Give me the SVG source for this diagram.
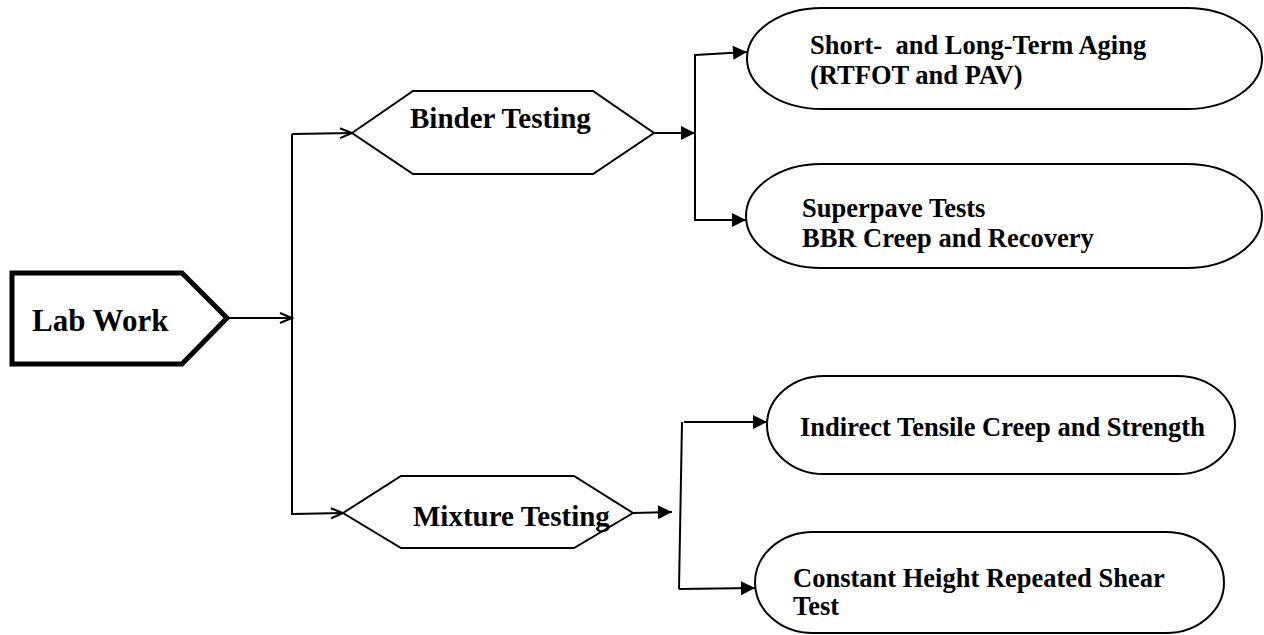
<svg xmlns="http://www.w3.org/2000/svg" width="1264" height="635" viewBox="0 0 1264 635">
  <style>
    .bg { fill: #ffffff; }
    .shape { fill: #ffffff; stroke: #000000; stroke-width: 2; }
    .start { fill: #ffffff; stroke: #000000; stroke-width: 5; stroke-linejoin: miter; }
    .wire { fill: none; stroke: #000000; stroke-width: 2; }
    .lbl { font-family: "Liberation Serif", "Times New Roman", serif; font-weight: bold; fill: #000000; }
    .big { font-size: 31px; }
    .mid { font-size: 29px; }
    .small { font-size: 26.5px; }
  </style>
  <defs>
    <marker id="open" markerUnits="userSpaceOnUse" markerWidth="14" markerHeight="12" refX="12" refY="5" orient="auto" overflow="visible">
      <path d="M0,0 L12,5 L0,10" fill="none" stroke="#000000" stroke-width="2"/>
    </marker>
    <marker id="solid" markerUnits="userSpaceOnUse" markerWidth="15" markerHeight="14" refX="14" refY="7" orient="auto" overflow="visible">
      <path d="M0,0 L14,7 L0,14 Z" fill="#000000"/>
    </marker>
  </defs>

  <rect class="bg" x="0" y="0" width="1264" height="635"/>

  <!-- connectors -->
  <g id="connectors">
    <line class="wire" x1="227" y1="318" x2="292" y2="318" marker-end="url(#open)"/>
    <line class="wire" x1="292" y1="134" x2="292" y2="515"/>
    <line class="wire" x1="292" y1="134" x2="352" y2="133" marker-end="url(#open)"/>
    <line class="wire" x1="292" y1="514" x2="343" y2="513" marker-end="url(#open)"/>

    <line class="wire" x1="654" y1="133" x2="695" y2="133" marker-end="url(#solid)"/>
    <line class="wire" x1="695" y1="54" x2="695" y2="221"/>
    <line class="wire" x1="695" y1="55" x2="747" y2="52" marker-end="url(#solid)"/>
    <line class="wire" x1="695" y1="220" x2="746" y2="220" marker-end="url(#solid)"/>

    <line class="wire" x1="633" y1="513" x2="672" y2="512" marker-end="url(#solid)"/>
    <line class="wire" x1="682" y1="422" x2="679" y2="589"/>
    <line class="wire" x1="684" y1="422" x2="767" y2="422" marker-end="url(#solid)"/>
    <line class="wire" x1="679" y1="589" x2="755" y2="588" marker-end="url(#solid)"/>
  </g>

  <!-- start node -->
  <g id="lab-work">
    <path class="start" d="M12,273 L182,273 L227,318 L182,364 L12,364 Z"/>
    <text class="lbl big" x="32" y="331">Lab Work</text>
  </g>

  <!-- category nodes -->
  <g id="binder-testing">
    <path class="shape" d="M352,133 L413,91 L593,91 L654,133 L593,174 L413,174 Z"/>
    <text class="lbl mid" x="410" y="128">Binder Testing</text>
  </g>

  <g id="mixture-testing">
    <path class="shape" d="M343,513 L401,476 L574,476 L633,513 L574,548 L401,548 Z"/>
    <text class="lbl mid" x="413" y="526">Mixture Testing</text>
  </g>

  <!-- test nodes -->
  <g id="aging">
    <rect class="shape" x="747" y="8" width="515" height="101" rx="75" ry="50.5"/>
    <text class="lbl small" x="810" y="54" xml:space="preserve">Short-  and Long-Term Aging</text>
    <text class="lbl small" x="810" y="84">(RTFOT and PAV)</text>
  </g>

  <g id="superpave">
    <rect class="shape" x="746" y="164" width="516" height="104" rx="75" ry="52"/>
    <text class="lbl small" x="802" y="217">Superpave Tests</text>
    <text class="lbl small" x="802" y="247">BBR Creep and Recovery</text>
  </g>

  <g id="indirect-tensile">
    <rect class="shape" x="767" y="376" width="468" height="98" rx="57" ry="49"/>
    <text class="lbl small" x="800" y="436">Indirect Tensile Creep and Strength</text>
  </g>

  <g id="repeated-shear">
    <rect class="shape" x="755" y="532" width="469" height="101" rx="58" ry="50.5"/>
    <text class="lbl small" x="793" y="587">Constant Height Repeated Shear</text>
    <text class="lbl small" x="793" y="615">Test</text>
  </g>
</svg>
